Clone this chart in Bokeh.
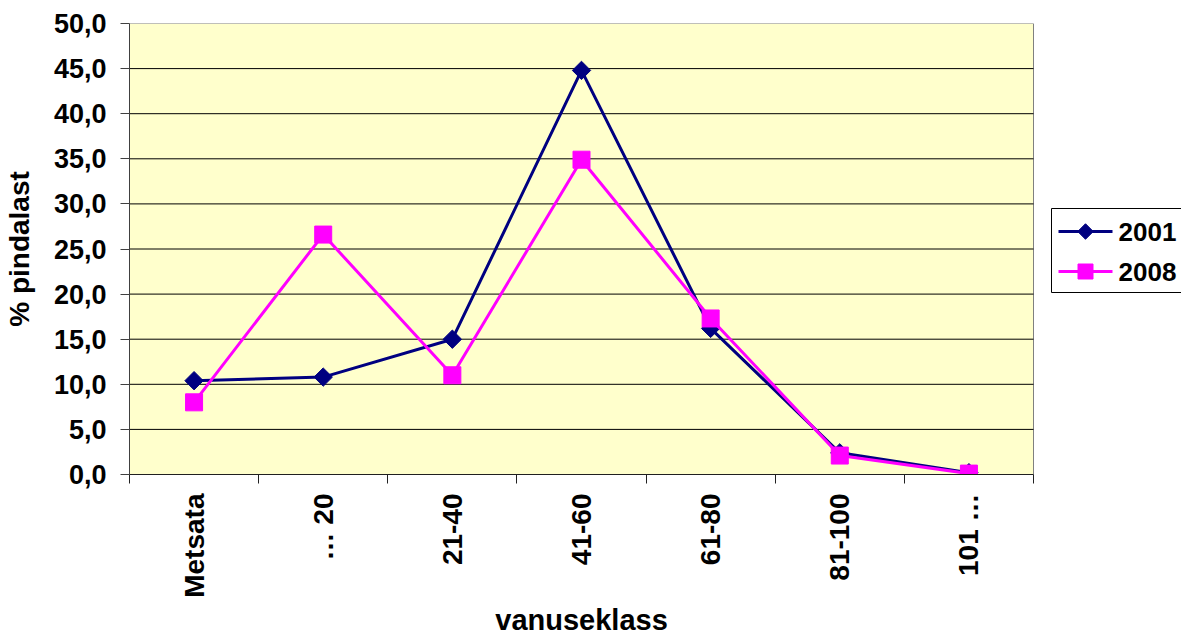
import math
from bokeh.plotting import figure
from bokeh.models import ColumnDataSource, FixedTicker, Range1d, Title
from bokeh.core.properties import value
from bokeh.embed import file_html
from bokeh.resources import INLINE

# ---- data ----
categories = ["Metsata", "… 20", "21-40", "41-60", "61-80", "81-100", "101 …"]
series_2001 = [10.4, 10.8, 15.0, 44.8, 16.2, 2.4, 0.2]
series_2008 = [8.0, 26.6, 11.0, 34.9, 17.3, 2.1, 0.1]
series_names = ["2001", "2008"]
y_ticks = [0, 5, 10, 15, 20, 25, 30, 35, 40, 45, 50]
y_tick_labels = ["0,0", "5,0", "10,0", "15,0", "20,0", "25,0", "30,0", "35,0", "40,0", "45,0", "50,0"]
x_title = "vanuseklass"
y_title = "% pindalast"

# ---- layout (pixels) ----
W, H = 1181, 637
LEFT, TOP, BOTTOM = 129, 23, 163
PLOT_W = 904                      # width of the category area
FRAME_W = W - LEFT                # frame extends to the right edge (legend lives there)
FRAME_H = H - TOP - BOTTOM

n = len(categories)
y_min, y_max = y_ticks[0], y_ticks[-1]
px_per_x = PLOT_W / n
px_per_y = FRAME_H / (y_max - y_min)

def dx(px):
    return px / px_per_x

def dy(px):
    return y_min + px / px_per_y

# category positions on a numeric scale (centre of each slot)
x_pos = [i + 0.5 for i in range(n)]
x_bounds = list(range(n + 1))

src = ColumnDataSource(dict(x=x_pos, y1=series_2001, y2=series_2008))

FONT = "Liberation Sans"
C2001, C2008 = "#000080", "#FF00FF"

p = figure(width=W, height=H, x_range=Range1d(0, FRAME_W / px_per_x), y_range=Range1d(y_min, y_max),
           output_backend="svg", toolbar_location=None,
           min_border_left=LEFT, min_border_top=TOP, min_border_right=0,
           min_border_bottom=BOTTOM)
p.background_fill_color = "white"
p.border_fill_color = "white"
p.outline_line_color = None
p.xgrid.grid_line_color = None
p.ygrid.grid_line_color = None

# plot area (yellow, grey border) and horizontal grid lines
p.quad(left=[0], right=[n], bottom=[y_min], top=[y_max],
       fill_color="#FFFFCC", line_color="#808080", line_width=1)
inner = y_ticks[1:-1]
p.segment(x0=[0] * len(inner), x1=[n] * len(inner), y0=inner, y1=inner,
          line_color="black", line_width=1)

# y axis
ya = p.yaxis[0]
ya.ticker = FixedTicker(ticks=y_ticks)
ya.major_label_overrides = {t: l for t, l in zip(y_ticks, y_tick_labels)}
ya.major_tick_in = 0
ya.major_tick_out = 9
ya.minor_tick_in = 0
ya.minor_tick_out = 0
ya.major_label_standoff = 14
ya.axis_line_color = "#404040"
ya.major_tick_line_color = "#404040"
ya.major_label_text_font = FONT
ya.major_label_text_font_style = "bold"
ya.major_label_text_font_size = "27px"
ya.major_label_text_color = "black"
ya.axis_label = y_title
ya.axis_label_text_font = FONT
ya.axis_label_text_font_style = "bold"
ya.axis_label_text_font_size = "28px"
ya.axis_label_text_color = "black"
ya.axis_label_standoff = 16

# x axis
xa = p.xaxis[0]
xa.bounds = (0, n)
xa.ticker = FixedTicker(ticks=x_pos, minor_ticks=x_bounds)
xa.major_label_overrides = {x: c for x, c in zip(x_pos, categories)}
xa.major_tick_in = 0
xa.major_tick_out = 0
xa.minor_tick_in = 0
xa.minor_tick_out = 9
xa.minor_tick_line_color = "#202020"
xa.axis_line_color = "#202020"
xa.major_label_orientation = math.pi / 2
xa.major_label_standoff = 10
xa.major_label_text_font = FONT
xa.major_label_text_font_style = "bold"
xa.major_label_text_font_size = "28px"
xa.major_label_text_color = "black"

# x title, centred under the category area
TITLE_SIZE = 29
title_w = 5.948 * TITLE_SIZE            # approx. bold width of the title text
p.add_layout(Title(text=x_title, align="left", offset=PLOT_W / 2 - title_w / 2,
                   text_font=FONT, text_font_style="bold", text_font_size=f"{TITLE_SIZE}px",
                   text_color="black", standoff=2), "below")

# series
p.line("x", "y1", source=src, line_color=C2001, line_width=3)
p.scatter("x", "y1", source=src, marker="square", angle=math.pi / 4, size=13,
          fill_color=C2001, line_color=C2001)
p.line("x", "y2", source=src, line_color=C2008, line_width=3)
p.scatter("x", "y2", source=src, marker="square", size=17,
          fill_color=C2008, line_color=C2008)

# ---- legend, drawn right of the category area (pixel layout relative to frame) ----
LEG_L, LEG_B, LEG_T = 922, 182, 266
ENTRY_Y = [243, 203]
G_X0, G_X1, TXT_X = 929, 983, 989
p.quad(left=[dx(LEG_L)], right=[dx(FRAME_W + 20)], bottom=[dy(LEG_B)], top=[dy(LEG_T)],
       fill_color="white", line_color="black", line_width=1)
leg_y = [dy(v) for v in ENTRY_Y]
colors = [C2001, C2008]
p.segment(x0=[dx(G_X0)] * 2, x1=[dx(G_X1)] * 2, y0=leg_y, y1=leg_y,
          line_color=colors, line_width=3)
gx = dx((G_X0 + G_X1) / 2)
p.scatter(x=[gx], y=[leg_y[0]], marker="square", angle=math.pi / 4, size=11,
          fill_color=C2001, line_color=C2001)
p.scatter(x=[gx], y=[leg_y[1]], marker="square", size=15,
          fill_color=C2008, line_color=C2008)
p.text(x=[dx(TXT_X)] * 2, y=leg_y, text=series_names, text_font=value(FONT),
       text_font_style="bold", text_font_size="26px", text_color="black",
       text_baseline="middle", text_align="left")

open("out.html", "w").write(file_html(p, INLINE))
